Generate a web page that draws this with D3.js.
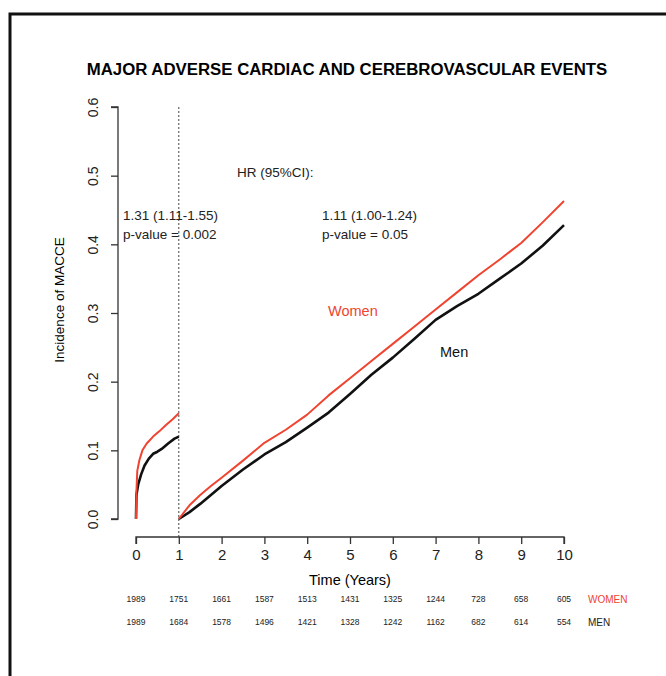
<!DOCTYPE html>
<html>
<head>
<meta charset="utf-8">
<script src="https://cdn.jsdelivr.net/npm/d3@7"></script>
<style>
  body { margin: 0; background: #fff; }
  text { font-family: "Liberation Sans", Arial, sans-serif; }
</style>
</head>
<body>
<div id="chart"></div>
<script>
// early period (0-1 year)
const womenEarly = [
  [0, 0], [0.01, 0.04], [0.03, 0.07], [0.08, 0.086], [0.15, 0.1], [0.25, 0.11],
  [0.4, 0.12], [0.55, 0.128], [0.7, 0.137], [0.85, 0.145], [1.0, 0.154],
];
const menEarly = [
  [0, 0], [0.01, 0.035], [0.05, 0.05], [0.12, 0.065], [0.2, 0.078], [0.3, 0.088],
  [0.4, 0.095], [0.5, 0.098], [0.6, 0.102], [0.75, 0.11], [0.9, 0.117], [1.0, 0.12],
];
// late period (1-10 years), landmark restart at year 1
const womenLate = [
  [1, 0], [1.25, 0.02], [1.5, 0.035], [1.75, 0.048], [2, 0.06], [2.5, 0.085],
  [3, 0.111], [3.5, 0.13], [4, 0.152], [4.5, 0.18], [5, 0.205], [5.5, 0.23],
  [6, 0.255], [6.5, 0.28], [7, 0.305], [7.5, 0.33], [8, 0.355], [8.5, 0.378],
  [9, 0.402], [9.5, 0.432], [10, 0.463],
];
const menLate = [
  [1, 0], [1.25, 0.01], [1.5, 0.022], [1.75, 0.035], [2, 0.048], [2.5, 0.072],
  [3, 0.094], [3.5, 0.112], [4, 0.133], [4.5, 0.155], [5, 0.182], [5.5, 0.21],
  [6, 0.235], [6.5, 0.262], [7, 0.29], [7.5, 0.31], [8, 0.328], [8.5, 0.35],
  [9, 0.372], [9.5, 0.398], [10, 0.428],
];
const xTicks = [0, 1, 2, 3, 4, 5, 6, 7, 8, 9, 10];
const yTicks = [0, 0.1, 0.2, 0.3, 0.4, 0.5, 0.6];
const womenAtRisk = [1989, 1751, 1661, 1587, 1513, 1431, 1325, 1244, 728, 658, 605];
const menAtRisk = [1989, 1684, 1578, 1496, 1421, 1328, 1242, 1162, 682, 614, 554];

const RED = '#ee4430';
const width = 666;
const height = 676;

const svg = d3
  .select('#chart')
  .append('svg')
  .attr('width', width)
  .attr('height', height);

// outer frame
svg
  .append('rect')
  .attr('x', 10)
  .attr('y', 14)
  .attr('width', 700)
  .attr('height', 700)
  .attr('fill', 'none')
  .attr('stroke', '#111')
  .attr('stroke-width', 3);

const x = d3.scaleLinear().domain([0, 10]).range([136, 564]);
const y = d3.scaleLinear().domain([0, 0.6]).range([519, 107]);

svg
  .append('text')
  .attr('x', 347)
  .attr('y', 75)
  .attr('text-anchor', 'middle')
  .style('font-size', '16.8px')
  .style('font-weight', 'bold')
  .text('MAJOR ADVERSE CARDIAC AND CEREBROVASCULAR EVENTS');

// y axis
const yAxis = svg
  .append('g')
  .attr('transform', 'translate(118,0)')
  .call(d3.axisLeft(y).tickValues(yTicks).tickFormat(d3.format('.1f')).tickSize(7).tickPadding(4));
yAxis.select('.domain').attr('stroke', '#333').attr('stroke-width', 1.3).attr('d', `M-7,${y(0.6)}H0V${y(0)}H-7`);
yAxis.selectAll('.tick line').attr('stroke', '#333').attr('stroke-width', 1.3);
yAxis
  .selectAll('.tick text')
  .attr('x', 0)
  .attr('dy', 0)
  .attr('transform', 'translate(-20,0) rotate(-90)')
  .attr('text-anchor', 'middle')
  .style('font-size', '14px')
  .attr('fill', '#222');

// x axis
const xAxis = svg
  .append('g')
  .attr('transform', 'translate(0,537)')
  .call(d3.axisBottom(x).tickValues(xTicks).tickFormat(d3.format('d')).tickSize(7).tickPadding(5));
xAxis.select('.domain').attr('stroke', '#333').attr('stroke-width', 1.3).attr('d', `M${x(0)},7V0H${x(10)}V7`);
xAxis.selectAll('.tick line').attr('stroke', '#333').attr('stroke-width', 1.3);
xAxis.selectAll('.tick text').style('font-size', '15px').attr('fill', '#222');

svg
  .append('text')
  .attr('x', 350)
  .attr('y', 585)
  .attr('text-anchor', 'middle')
  .style('font-size', '14.5px')
  .text('Time (Years)');

svg
  .append('text')
  .attr('transform', 'translate(64,300) rotate(-90)')
  .attr('text-anchor', 'middle')
  .style('font-size', '13.5px')
  .text('Incidence of MACCE');

// landmark line
svg
  .append('line')
  .attr('x1', x(1))
  .attr('x2', x(1))
  .attr('y1', y(0.6))
  .attr('y2', 537)
  .attr('stroke', '#444')
  .attr('stroke-width', 1)
  .attr('stroke-dasharray', '2,2');

const line = d3
  .line()
  .x((d) => x(d[0]))
  .y((d) => y(d[1]));

[
  [menEarly, '#111', 2.6],
  [menLate, '#111', 2.6],
  [womenEarly, RED, 2],
  [womenLate, RED, 2],
].forEach(([data, color, w]) => {
  svg
    .append('path')
    .datum(data)
    .attr('d', line)
    .attr('fill', 'none')
    .attr('stroke', color)
    .attr('stroke-width', w)
    .attr('stroke-linejoin', 'round');
});

// annotations
const note = (tx, ty, str, color = '#222', size = 13.5) =>
  svg
    .append('text')
    .attr('x', tx)
    .attr('y', ty)
    .style('font-size', `${size}px`)
    .attr('fill', color)
    .text(str);

note(237, 177, 'HR (95%CI):');
note(123, 220, '1.31 (1.11-1.55)');
note(123, 239, 'p-value = 0.002');
note(322, 220, '1.11 (1.00-1.24)');
note(322, 239, 'p-value = 0.05');
note(328, 316, 'Women', RED, 14.5);
note(440, 357, 'Men', '#111', 14.5);

// numbers at risk
const riskRow = (vals, ry, label, color) => {
  svg
    .append('g')
    .selectAll('text')
    .data(vals)
    .enter()
    .append('text')
    .attr('x', (d, i) => x(xTicks[i]))
    .attr('y', ry)
    .attr('text-anchor', 'middle')
    .style('font-size', '8.5px')
    .attr('fill', '#222')
    .text((d) => d);
  svg
    .append('text')
    .attr('x', 588)
    .attr('y', ry + 1)
    .style('font-size', '10px')
    .attr('fill', color)
    .text(label);
};
riskRow(womenAtRisk, 602, 'WOMEN', RED);
riskRow(menAtRisk, 625, 'MEN', '#222');
</script>
</body>
</html>
